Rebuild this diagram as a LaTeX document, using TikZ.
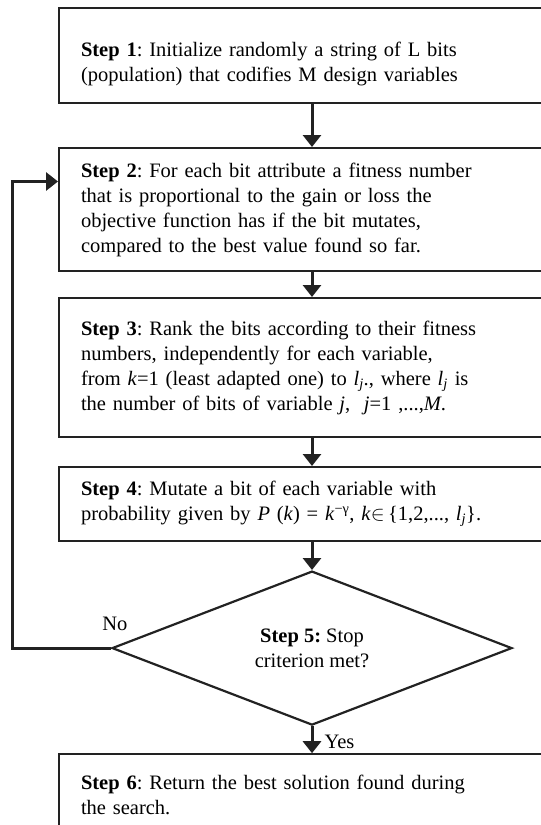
\documentclass[tikz,border=0pt]{standalone}
\usepackage{fontspec}
\setmainfont{Liberation Serif}
\usetikzlibrary{shapes.geometric, arrows.meta, positioning}
\definecolor{cLine}{RGB}{34, 34, 34}
\tikzset{
    stepBox/.style={
        rectangle, draw=cLine, line width=2pt,
        anchor=north west, align=left,
        minimum width=530pt, text width=490pt,
        inner xsep=22pt, inner ysep=0pt
    },
    decisionNode/.style={
        diamond, draw=cLine, line width=2.2pt, align=center,
        minimum width=400pt, minimum height=154pt, aspect=2.6,
        inner sep=0pt
    },
    flowArrow/.style={
        draw=cLine, line width=3pt,
        -{Triangle[width=18pt,length=12pt]}
    }
}
\newcommand{\stepTitle}[1]{\textbf{#1}}
\newcommand{\varIdx}{\textit{l}\textsubscript{\textit{j}}}

\begin{document}
\frenchspacing
\begin{tikzpicture}[x=1pt, y=-1pt, font=\fontsize{20.5}{25}\selectfont, node distance=26pt]
    \useasboundingbox (0,0) rectangle (541,825);
    \coordinate (spine) at (312,0);
    \coordinate (loop) at (12,0);

    % steps
    \node [stepBox, minimum height=95pt] (step1) at (58,7) {
        \rule{0pt}{32pt}\stepTitle{Step 1}: Initialize randomly a string of L bits\\
        (population) that codifies M design variables
    };
    \node [stepBox, minimum height=123pt, below=43pt of step1.south west, anchor=north west] (step2) {
        \stepTitle{Step 2}: For each bit attribute a fitness number\\
        that is proportional to the gain or loss the\\
        objective function has if the bit mutates,\\
        compared to the best value found so far.
    };
    \node [stepBox, minimum height=139pt, below=25pt of step2.south west, anchor=north west] (step3) {
        \stepTitle{Step 3}: Rank the bits according to their fitness\\
        numbers, independently for each variable,\\
        from \textit{k}=1 (least adapted one) to \varIdx., where \varIdx{} is\\
        the number of bits of variable \textit{j}, \ \textit{j}=1 ,...,\textit{M}.
    };
    \node [stepBox, minimum height=74pt, below=28pt of step3.south west, anchor=north west] (step4) {
        \stepTitle{Step 4}: Mutate a bit of each variable with\\
        probability given by \textit{P} (\textit{k}) = \textit{k}\textsuperscript{−γ}, \textit{k}$\in$\,\{1,2,..., \varIdx\}.
    };
    \node [decisionNode, below=28pt of step4.south -| spine] (step5) {
        \stepTitle{Step 5:} Stop\\criterion met?
    };
    \node [stepBox, minimum height=82pt, below=27pt of step5.south -| step4.west, anchor=north west] (step6) {
        \stepTitle{Step 6}: Return the best solution found during\\
        the search.
    };

    % connectors
    \draw [flowArrow] (step1.south -| spine) -- (step2.north -| spine);
    \draw [flowArrow] (step2.south -| spine) -- (step3.north -| spine);
    \draw [flowArrow] (step3.south -| spine) -- (step4.north -| spine);
    \draw [flowArrow] (step4.south -| spine) -- (step5.north);
    \draw [flowArrow] (step5.south) -- node [right, inner xsep=11pt, yshift=-2pt] (yes) {Yes} (step6.north -| spine);

    \coordinate (entry) at ([yshift=28pt]step2.west);
    \draw [flowArrow] (step5.west) -- (step5.west -| loop) -- (loop |- entry) -- (entry);
    \node [above=14pt of step5.west, xshift=4pt] (no) {No};
\end{tikzpicture}
\end{document}
